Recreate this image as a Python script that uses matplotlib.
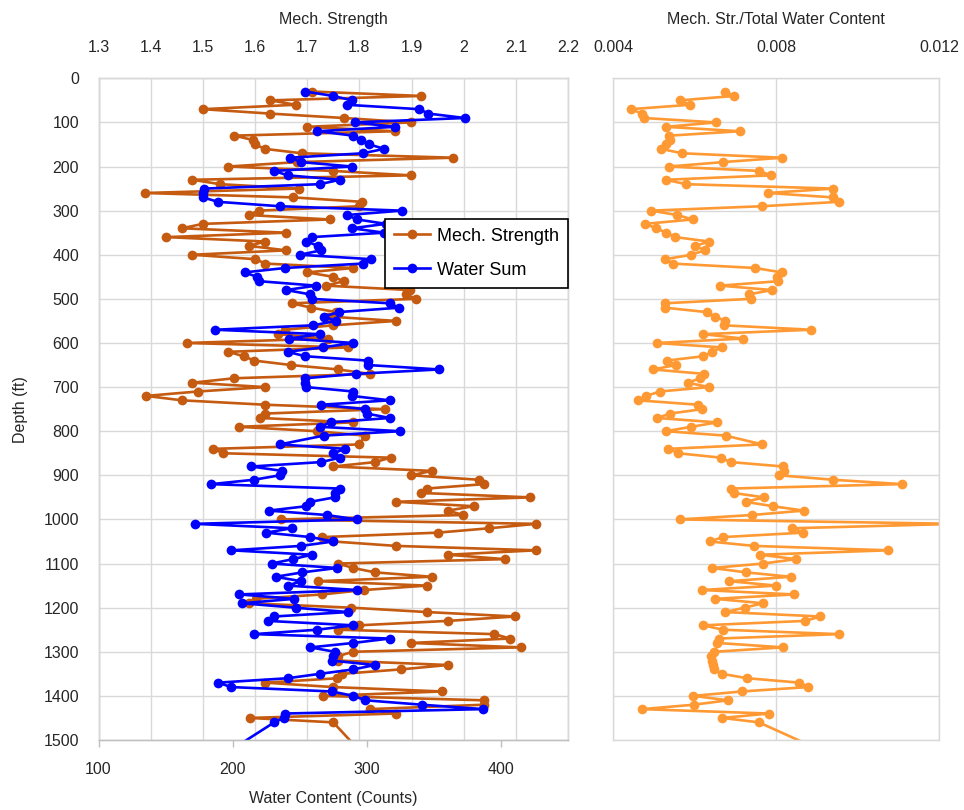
import matplotlib

matplotlib.use("Agg")

import matplotlib.pyplot as plt
from matplotlib.lines import Line2D
from matplotlib.ticker import FuncFormatter, MultipleLocator
import numpy as np

plt.rcParams["font.family"] = ["Liberation Sans Narrow", "Liberation Sans", "DejaVu Sans"]

# -----------------------------
# Log data (depth in ft)
# -----------------------------
depth_ft = [
    30, 40, 50, 60, 70, 80, 90, 100, 110, 120,
    130, 140, 150, 160, 170, 180, 190, 200, 210, 220,
    230, 240, 250, 260, 270, 280, 290, 300, 310, 320,
    330, 340, 350, 360, 370, 380, 390, 400, 410, 420,
    430, 440, 450, 460, 470, 480, 490, 500, 510, 520,
    530, 540, 550, 560, 570, 580, 590, 600, 610, 620,
    630, 640, 650, 660, 670, 680, 690, 700, 710, 720,
    730, 740, 750, 760, 770, 780, 790, 800, 810,
    830, 840, 850, 860, 870, 880, 890, 900, 910, 920,
    930, 940, 950, 960, 970, 980, 990, 1000, 1010, 1020,
    1030, 1040, 1050, 1060, 1070, 1080, 1090, 1100, 1110, 1120,
    1130, 1140, 1150, 1160, 1170, 1180, 1190, 1200, 1210, 1220,
    1230, 1240, 1250, 1260, 1270, 1280, 1290, 1300, 1310, 1320,
    1330, 1340, 1350, 1360, 1370, 1380, 1390, 1400, 1410, 1420,
    1430, 1440, 1450, 1460,
    1530,
]

mech_strength = [
    1.710, 1.918, 1.629, 1.678, 1.500, 1.629, 1.770, 1.899, 1.699, 1.869,
    1.560, 1.597, 1.600, 1.619, 1.690, 1.980, 1.681, 1.549, 1.750, 1.899,
    1.480, 1.533, 1.684, 1.389, 1.673, 1.805, 1.800, 1.607, 1.588, 1.743,
    1.500, 1.460, 1.660, 1.430, 1.619, 1.589, 1.660, 1.480, 1.600, 1.620,
    1.788, 1.700, 1.750, 1.770, 1.736, 1.897, 1.889, 1.909, 1.670, 1.708,
    1.756, 1.740, 1.870, 1.749, 1.657, 1.644, 1.740, 1.469, 1.779, 1.549,
    1.578, 1.599, 1.669, 1.759, 1.820, 1.560, 1.480, 1.620, 1.490, 1.391,
    1.460, 1.620, 1.849, 1.619, 1.610, 1.788, 1.569, 1.718, 1.811,
    1.800, 1.520, 1.539, 1.860, 1.830, 1.750, 1.939, 1.899, 2.029, 2.039,
    1.929, 1.919, 2.128, 1.870, 2.019, 1.970, 1.999, 1.649, 2.139, 2.049,
    1.950, 1.729, 1.750, 1.870, 2.139, 1.970, 2.079, 1.759, 1.788, 1.830,
    1.939, 1.720, 1.929, 1.809, 1.729, 1.601, 1.589, 1.784, 1.930, 2.099,
    1.970, 1.800, 1.759, 2.059, 2.089, 1.899, 2.109, 1.788, 1.759, 1.760,
    1.970, 1.879, 1.767, 1.758, 1.620, 1.749, 1.959, 1.731, 2.039, 2.039,
    1.820, 1.870, 1.590, 1.750,
    1.805,
]

water_sum = [
    254, 275, 289, 285, 339, 346, 373, 291, 321, 263,
    290, 296, 302, 313, 297, 243, 251, 289, 231, 241,
    280, 265, 179, 178, 178, 189, 235, 326, 285, 293,
    314, 289, 313, 259, 255, 264, 266, 250, 303, 297,
    239, 209, 218, 220, 262, 240, 258, 259, 317, 324,
    279, 268, 277, 260, 187, 265, 242, 290, 267, 241,
    254, 301, 301, 354, 292, 254, 254, 255, 290, 289,
    317, 266, 299, 300, 317, 273, 265, 325, 268,
    235, 284, 275, 280, 266, 214, 237, 235, 216, 184,
    280, 276, 276, 258, 255, 227, 270, 293, 172, 244,
    225, 258, 275, 251, 199, 259, 245, 229, 278, 252,
    232, 251, 241, 293, 205, 246, 207, 247, 286, 231,
    226, 290, 263, 216, 317, 290, 258, 276, 275, 274,
    306, 290, 265, 241, 189, 199, 274, 290, 299, 341,
    387, 239, 238, 231,
    195,
]

depth = np.array(depth_ft)
mech = np.array(mech_strength)
water = np.array(water_sum)
ratio = mech / water

# -----------------------------
# Style
# -----------------------------
C_MECH = "#C55A11"
C_WATER = "#0000FF"
C_RATIO = "#FF9933"
C_GRID = "#D9D9D9"
C_TEXT = "#262626"
FS = 11.5

fig = plt.figure(figsize=(9.64, 8.10), dpi=100)
fig.patch.set_facecolor("white")

ax_box = [98.5 / 964, 1 - 740 / 810, 469.5 / 964, 661.7 / 810]
ax3_box = [613.3 / 964, 1 - 740 / 810, 325.7 / 964, 661.7 / 810]

line_kw = dict(linewidth=1.9, marker="o", markersize=7.0, markeredgewidth=0)

# --- Left panel: strength (top scale) and water counts (bottom scale) ---
ax = fig.add_axes(ax_box)
ax2 = ax.twiny()

ax.plot(mech, depth, color=C_MECH, **line_kw)
ax.set_xlim(1.3, 2.2)
ax.set_ylim(1500, 0)
ax.xaxis.set_major_locator(MultipleLocator(0.1))
ax.yaxis.set_major_locator(MultipleLocator(100))
ax.xaxis.set_major_formatter(FuncFormatter(lambda v, _: f"{v:g}"))
ax.set_ylabel("Depth (ft)", fontsize=FS, color=C_TEXT, labelpad=11)
ax.tick_params(axis="y", length=0, pad=14, labelsize=FS, labelcolor=C_TEXT)
ax.grid(True, color=C_GRID, linewidth=1.0)
ax.set_axisbelow(True)

ax2.plot(water, depth, color=C_WATER, **line_kw)
ax2.set_xlim(100, 450)
ax2.set_xticks([100, 200, 300, 400])

# strength scale on top, counts scale on the bottom
ax.xaxis.set_ticks_position("top")
ax.xaxis.set_label_position("top")
ax.set_xlabel("Mech. Strength", fontsize=FS, color=C_TEXT, labelpad=11)
ax.tick_params(axis="x", which="both", top=True, bottom=False, labeltop=True,
               labelbottom=False, length=0, pad=17, labelsize=FS, labelcolor=C_TEXT)

ax2.xaxis.set_ticks_position("bottom")
ax2.xaxis.set_label_position("bottom")
ax2.set_xlabel("Water Content (Counts)", fontsize=FS, color=C_TEXT, labelpad=10)
ax2.tick_params(axis="x", which="both", top=False, bottom=True, labeltop=False,
                labelbottom=True, direction="out", length=5, width=1.0,
                color="#BFBFBF", pad=11, labelsize=FS, labelcolor=C_TEXT)

for a in (ax, ax2):
    for sp in a.spines.values():
        sp.set_color(C_GRID)
        sp.set_linewidth(1.0)
ax2.spines["bottom"].set_color("#BFBFBF")
ax.spines["left"].set_color("#BFBFBF")

handles = [
    Line2D([], [], color=C_MECH, **line_kw),
    Line2D([], [], color=C_WATER, **line_kw),
]
leg = ax2.legend(handles, ["Mech. Strength", "Water Sum"], loc="upper right",
                 bbox_to_anchor=(1.0, 0.788), fontsize=13, frameon=True,
                 fancybox=False, framealpha=1.0, edgecolor="black",
                 handlelength=2.0, handletextpad=0.4, borderpad=0.5,
                 labelspacing=0.95, borderaxespad=0.0)
leg.get_frame().set_linewidth(1.2)

# --- Right panel: strength / total water ratio ---
ax3 = fig.add_axes(ax3_box)
ax3.plot(ratio, depth, color=C_RATIO, **line_kw)
ax3.set_xlim(0.004, 0.012)
ax3.set_ylim(1500, 0)
ax3.set_xticks([0.004, 0.008, 0.012])
ax3.xaxis.set_major_formatter(FuncFormatter(lambda v, _: f"{v:.3f}"))
ax3.yaxis.set_major_locator(MultipleLocator(100))
ax3.xaxis.tick_top()
ax3.xaxis.set_label_position("top")
ax3.set_xlabel("Mech. Str./Total Water Content", fontsize=FS, color=C_TEXT, labelpad=11)
ax3.tick_params(axis="x", length=0, pad=17, labelsize=FS, labelcolor=C_TEXT)
ax3.tick_params(axis="y", length=0, labelleft=False)
ax3.grid(True, color=C_GRID, linewidth=1.0)
ax3.set_axisbelow(True)
for sp in ax3.spines.values():
    sp.set_color(C_GRID)
    sp.set_linewidth(1.0)

plt.savefig("out.png", dpi=100, facecolor="white")
